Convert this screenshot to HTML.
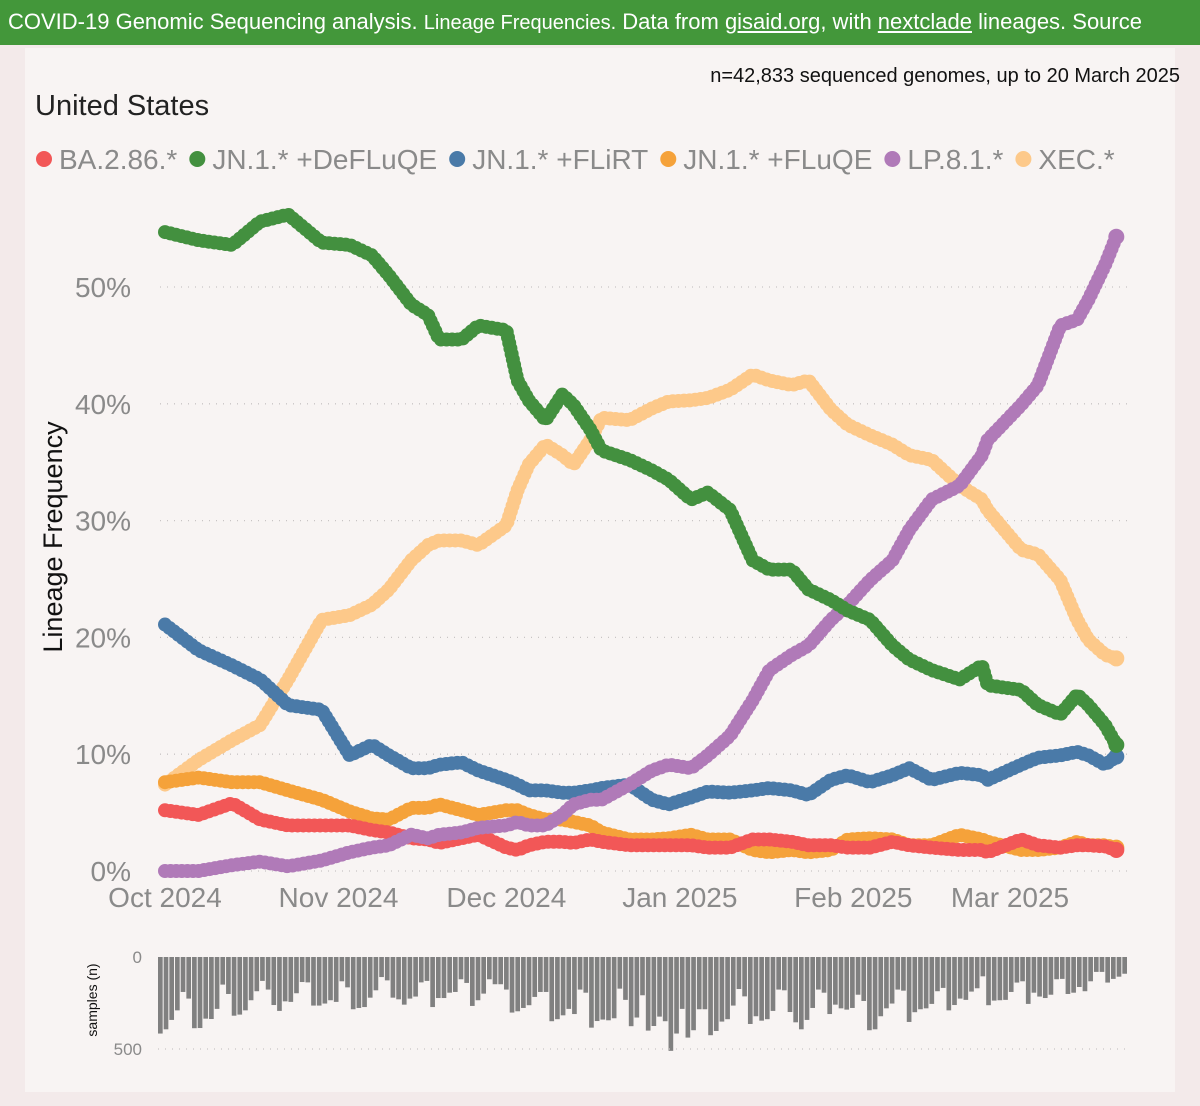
<!DOCTYPE html>
<html><head><meta charset="utf-8"><style>
body{margin:0;width:1200px;height:1106px;background:#f3eaea;overflow:hidden;font-family:"Liberation Sans","DejaVu Sans",sans-serif;}
#hdr{position:absolute;left:0;top:0;width:1200px;height:45px;background:#43973a;color:#fff;font-size:22px;line-height:44px;white-space:nowrap;overflow:hidden;padding-left:8px;box-sizing:border-box}
#hdr small{font-size:20px}
#hdr u{text-decoration:underline}
#panel{position:absolute;left:25px;top:48px;width:1150px;height:1044px;background:#f8f4f3}
svg{position:absolute;left:0;top:0}
</style></head><body>
<div id="hdr">COVID-19 Genomic Sequencing analysis. <small>Lineage Frequencies.</small> Data from <u>gisaid.org</u>, with <u>nextclade</u> lineages. Source</div>
<div id="panel"></div>
<svg id="chart" width="1200" height="1106">
<text x="1180" y="82" text-anchor="end" font-size="20" fill="#111">n=42,833 sequenced genomes, up to 20 March 2025</text>
<text x="35" y="115" font-size="29" fill="#222">United States</text>
<g id="legend"></g>
<g id="grid"></g>
<g id="series"></g>
<g id="bars"></g>
<text transform="translate(62,537) rotate(-90)" text-anchor="middle" font-size="27" fill="#111">Lineage Frequency</text>
<text transform="translate(97,1000) rotate(-90)" text-anchor="middle" font-size="14" fill="#111">samples (n)</text>
</svg>
<script>
const days=[0,6,12,17,22,28,33,37,40,44,47,49,53,56,61,63,65,68,71,73,76,78,83,87,90,94,97,101,105,108,112,115,119,122,126,130,133,137,142,146,147,153,156,160,163,165,168,170];
const baSeries=[5.2,4.8,5.8,4.4,3.9,3.9,3.9,3.5,3.3,2.8,2.7,2.4,2.8,3.1,2,1.8,2.2,2.5,2.5,2.4,2.7,2.5,2.2,2.2,2.2,2.2,2,2,2.7,2.7,2.5,2.2,2.2,2,2,2.5,2.2,2,1.8,1.8,1.6,2.7,2.2,2,2.2,2.2,2.1,1.8];
const defluqeSeries=[54.7,54,53.6,55.6,56.2,53.8,53.6,52.7,51,48.5,47.6,45.5,45.5,46.7,46.3,42,40.3,38.6,40.8,39.9,37.8,36,35.2,34.3,33.5,31.8,32.4,30.9,26.6,25.8,25.8,24.1,23.2,22.3,21.5,19.3,18.1,17.2,16.4,17.6,15.9,15.5,14.2,13.4,15.1,14.2,12.5,10.8];
const flirtSeries=[21.1,18.9,17.6,16.4,14.2,13.8,9.9,10.8,9.9,8.8,8.8,9.1,9.3,8.6,7.8,7.4,6.9,6.9,6.7,6.7,6.9,7.1,7.4,6.1,5.7,6.3,6.8,6.7,6.9,7.1,6.9,6.5,7.8,8.2,7.6,8.2,8.8,7.8,8.4,8.2,7.8,9.1,9.7,9.9,10.2,9.9,9.1,9.8];
const fluqeSeries=[7.6,8,7.6,7.6,6.9,6.1,5.1,4.5,4.4,5.4,5.4,5.7,5.2,4.8,5.2,5.2,4.8,4.4,4.4,4.2,3.9,3.3,2.7,2.7,2.8,3.1,2.7,2.7,1.8,1.6,1.8,1.6,1.8,2.7,2.8,2.7,2.2,2.2,3.1,2.7,2.5,1.8,1.8,2,2.5,2.2,2.2,2];
const lpSeries=[0,0,0.5,0.8,0.4,0.9,1.6,2,2.2,3.1,2.8,3.1,3.3,3.7,3.9,4.2,3.9,3.9,4.8,5.7,6.1,6.1,7.4,8.6,9.1,8.8,9.9,11.6,14.6,17.2,18.5,19.3,21.5,22.8,24.9,26.6,29.2,31.8,33,35.6,36.9,39.9,41.6,46.7,47.2,48.9,51.9,54.3];
const xecSeries=[7.4,9.5,11.2,12.5,16.4,21.5,21.9,22.8,24.1,26.6,27.9,28.3,28.3,27.9,29.6,32.6,34.8,36.5,35.6,34.8,36.9,38.8,38.6,39.6,40.2,40.3,40.5,41.2,42.5,42,41.6,42,39.5,38.2,37.3,36.5,35.6,35.2,33,31.8,30.9,27.5,27.1,24.9,21.5,19.8,18.5,18.2];
const seriesNames=["BA.2.86.*","JN.1.* +DeFLuQE","JN.1.* +FLiRT","JN.1.* +FLuQE","LP.8.1.*","XEC.*"];
const yTicks=[0,10,20,30,40,50];
const xTickLabels=["Oct 2024","Nov 2024","Dec 2024","Jan 2025","Feb 2025","Mar 2025"];
const xTickDays=[0,31,61,92,123,151];
const samples=[416,393,342,290,190,226,387,386,335,337,282,150,201,319,313,290,235,186,130,177,261,293,241,244,197,136,138,264,264,253,235,244,132,165,284,277,272,221,181,109,127,221,230,259,226,215,138,130,272,223,223,194,190,121,141,266,235,199,121,148,148,177,302,295,277,262,217,190,190,349,338,317,282,310,177,194,384,348,340,344,333,172,233,376,329,208,400,375,324,349,510,416,282,438,398,284,284,425,402,351,338,264,174,214,364,322,346,338,293,177,181,299,355,393,342,277,177,194,310,259,279,286,277,205,239,398,393,322,279,253,177,183,353,300,284,279,255,186,168,290,261,226,233,188,170,105,262,237,235,233,190,139,132,255,194,215,223,205,121,119,201,194,163,186,132,81,81,139,119,107,91];
const NS="http://www.w3.org/2000/svg";
const xS=d=>165+d*5.596, yS=v=>871-v*11.68;
function mk(tag,attrs,parent){const e=document.createElementNS(NS,tag);for(const k in attrs)e.setAttribute(k,attrs[k]);parent.appendChild(e);return e;}
const grid=document.getElementById('grid');
yTicks.forEach(t=>{
  if(t>0){const l=mk('line',{x1:160,x2:1130,y1:yS(t),y2:yS(t),stroke:'#c8c4c4','stroke-dasharray':'1 6','stroke-width':1.3},grid);
  
  }
  const tx=mk('text',{x:131,y:yS(t)+10,'text-anchor':'end','font-size':28,fill:'#8a8a8a'},grid);tx.textContent=t+'%';
  
  
});
mk('line',{x1:160,x2:1130,y1:871,y2:871,stroke:'#c8c4c4','stroke-dasharray':'1 6','stroke-width':1.3},grid);
xTickLabels.forEach((s,i)=>{const tx=mk('text',{x:xS(xTickDays[i]),y:907,'text-anchor':'middle','font-size':28,fill:'#8a8a8a'},grid);tx.textContent=s;
  
  });
const colors=['#f25757','#43903f','#4a7aa8','#f5a23a','#b07ab8','#fdc98a'];
const data=[baSeries,defluqeSeries,flirtSeries,fluqeSeries,lpSeries,xecSeries];
const ser=document.getElementById('series');
const order=[5,2,3,0,4,1];
order.forEach(i=>{
  const pts=data[i].map((v,j)=>xS(days[j])+','+yS(v)).join(' ');
  const p=mk('polyline',{points:pts,fill:'none',stroke:colors[i],'stroke-width':10,'stroke-linejoin':'round','stroke-linecap':'round'},ser);
  
  
  const b=mk('polyline',{points:pts,fill:'none',stroke:colors[i],'stroke-width':14,'stroke-dasharray':'0 5.6','stroke-linecap':'round','stroke-linejoin':'round'},ser);
  
  
  const last=data[i].length-1;
  const c=mk('circle',{cx:xS(days[last]),cy:yS(data[i][last]),r:8,fill:colors[i]},ser);
  
  
});
const lg=document.getElementById('legend');
let lx=36;
seriesNames.forEach((n,i)=>{
  const c=mk('circle',{cx:lx+8,cy:159,r:8,fill:colors[i]},lg);
  
  
  const t=mk('text',{x:lx+23,y:169,'font-size':28,fill:'#8a8a8a'},lg);t.textContent=n;
  
  
  lx+=23+t.getComputedTextLength()+12;
});
const bg=document.getElementById('bars');
const bS=v=>v*92/500;
const pitch=(1128-158)/samples.length;
samples.forEach((v,i)=>{const r=mk('rect',{x:158+i*pitch,y:957,width:pitch-1,height:bS(v),fill:'#808080'},bg);
  
  });
const g5=mk('line',{x1:158,x2:1128,y1:957+bS(500),y2:957+bS(500),stroke:'#c8c4c4','stroke-dasharray':'1 6','stroke-width':1.3},bg);


[[0,'0'],[500,'500']].forEach(a=>{const t=mk('text',{x:142,y:957+bS(a[0])+6,'text-anchor':'end','font-size':17,fill:'#8a8a8a'},bg);t.textContent=a[1];
  
  });
</script>
</body></html>
